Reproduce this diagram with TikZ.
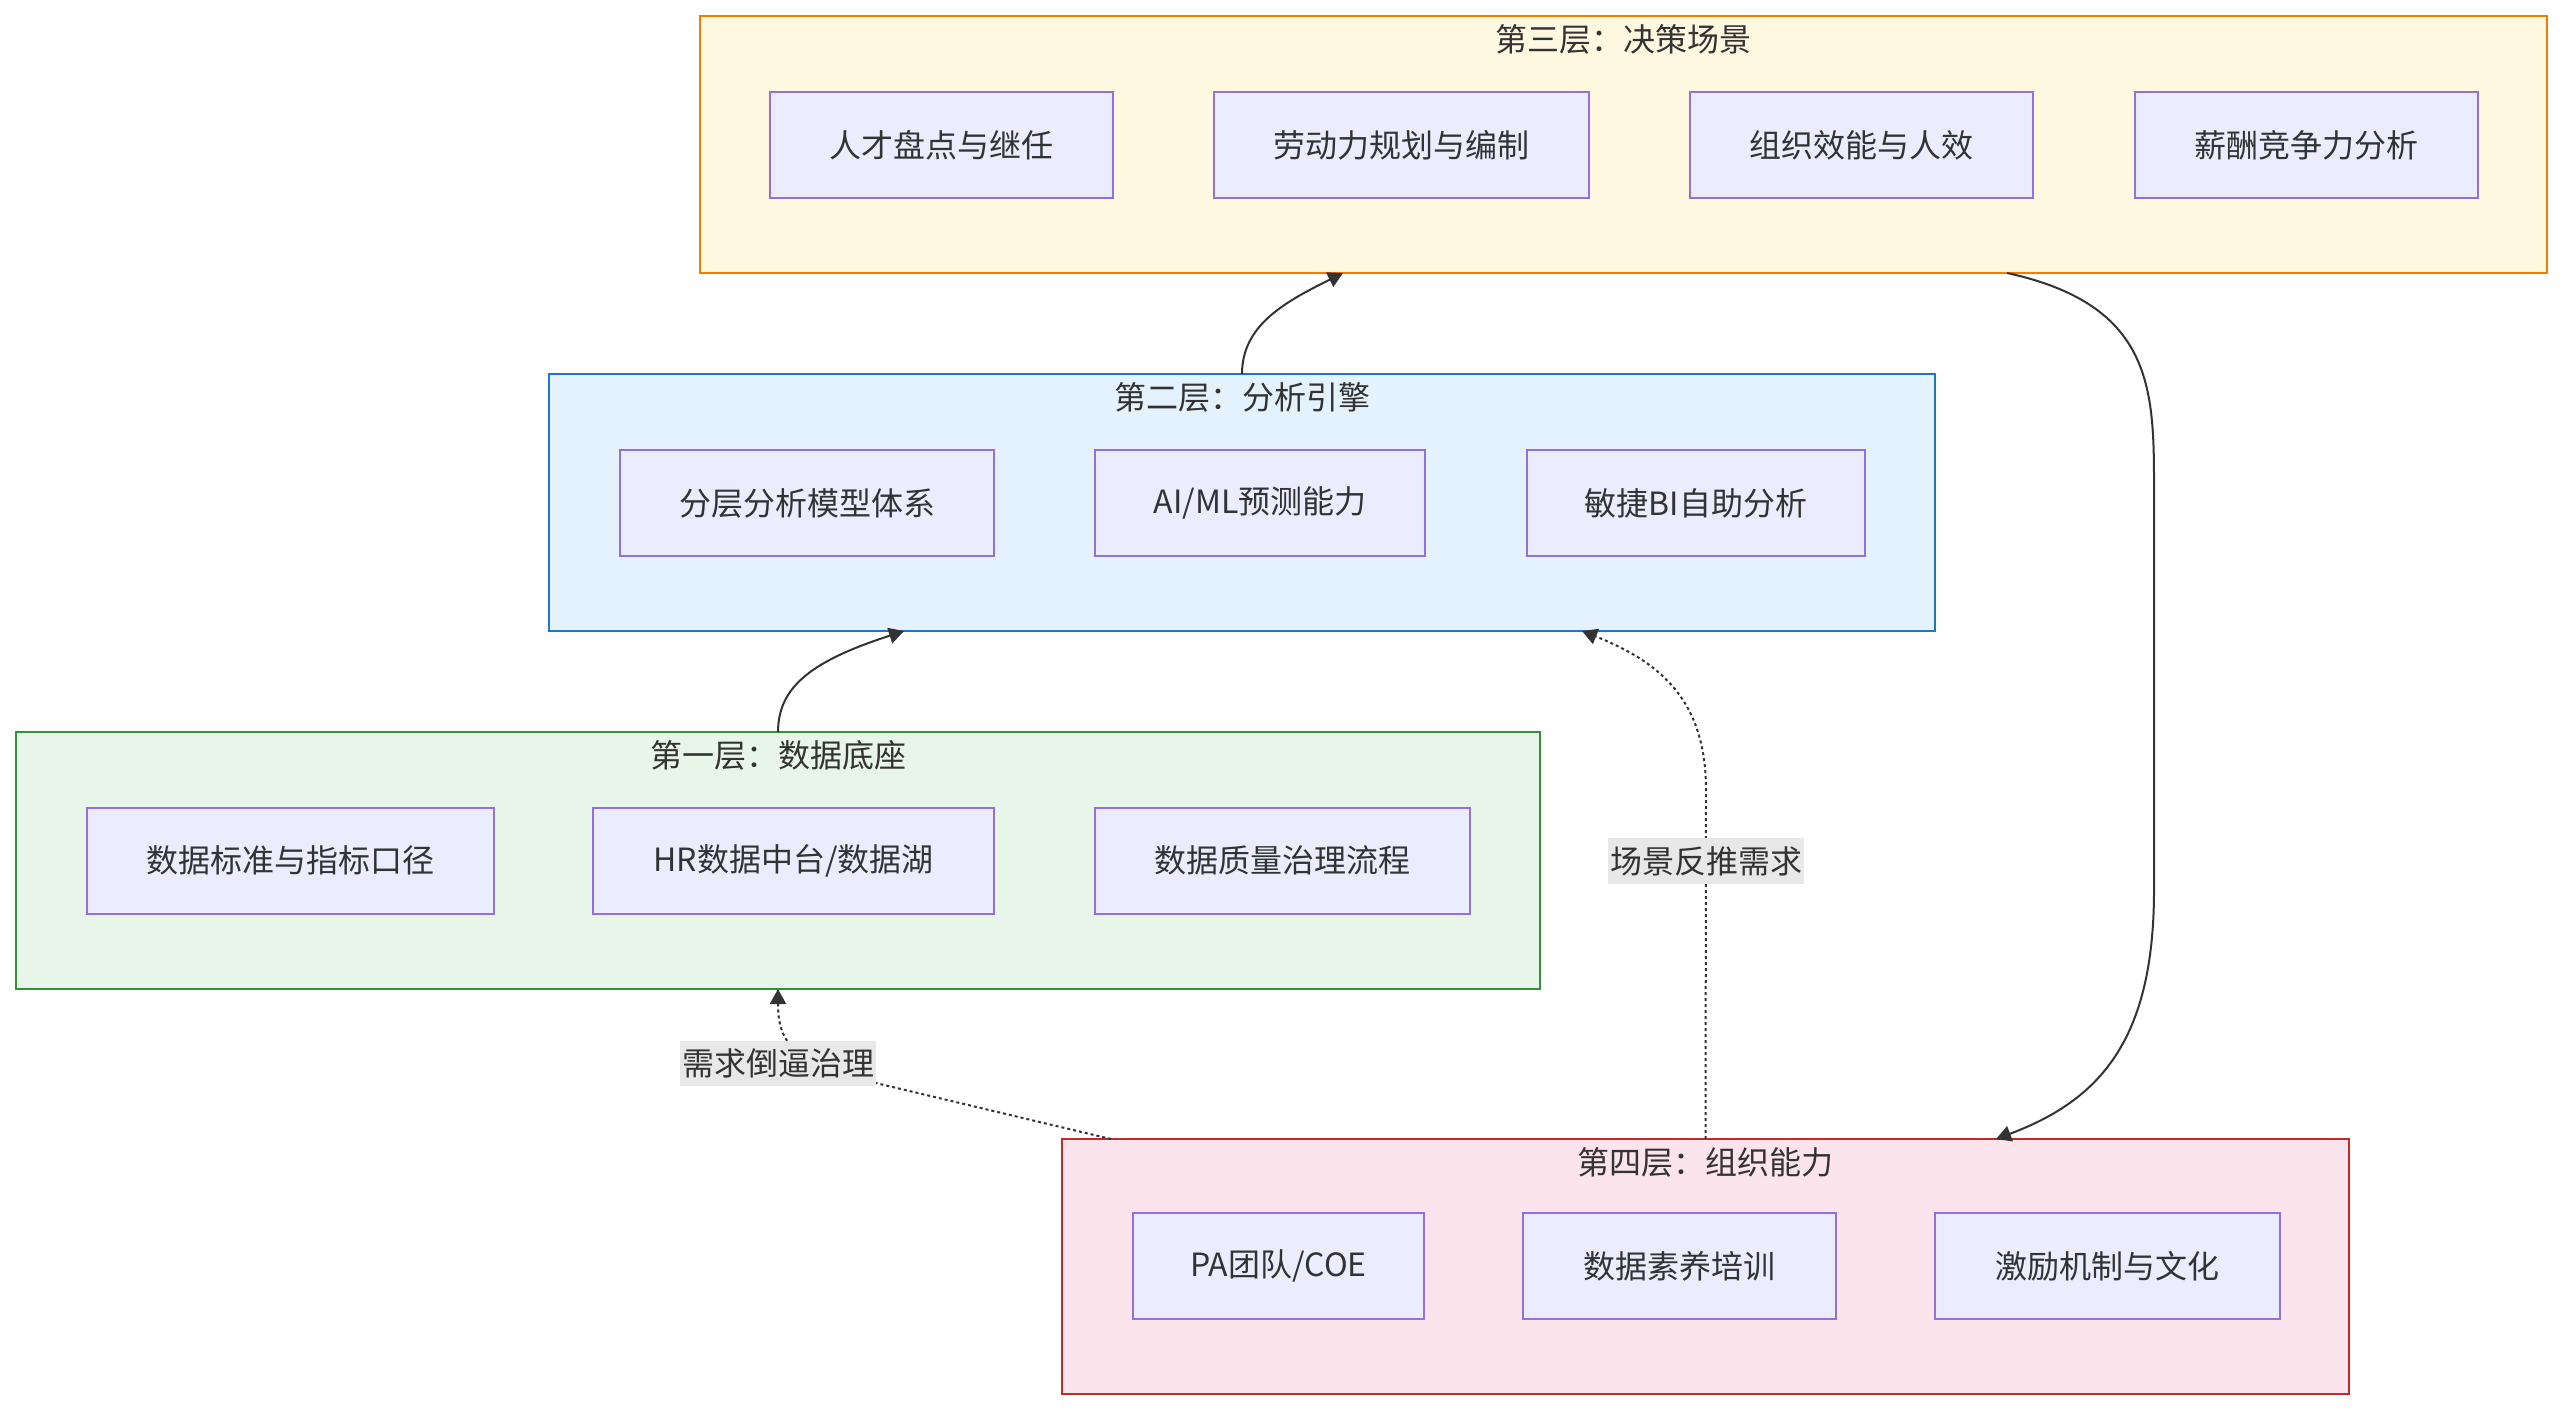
\documentclass[tikz,border=0pt]{standalone}
\usepackage{fontspec}
\setmainfont{Noto Sans CJK SC}
\usetikzlibrary{arrows.meta}
\definecolor{ink}{HTML}{333333}
\definecolor{itemfill}{HTML}{ECECFF}
\definecolor{itemline}{HTML}{9370DB}
\definecolor{lthreefill}{HTML}{FFF8E1}
\definecolor{lthreeline}{HTML}{F57C00}
\definecolor{ltwofill}{HTML}{E3F2FD}
\definecolor{ltwoline}{HTML}{1976D2}
\definecolor{lonefill}{HTML}{E8F5E9}
\definecolor{loneline}{HTML}{388E3C}
\definecolor{lfourfill}{HTML}{FCE4EC}
\definecolor{lfourline}{HTML}{C62828}
\definecolor{lblfill}{HTML}{E8E8E8}

\begin{document}
\begin{tikzpicture}[x=0.5pt,y=-0.5pt,
  layer/.style={rectangle, line width=1pt, inner sep=0pt, outer sep=0pt, minimum height=128.5pt},
  ttl/.style={text=ink, font=\fontsize{16pt}{19pt}\selectfont, inner sep=0pt},
  item/.style={rectangle, draw=itemline, fill=itemfill, line width=1pt, text=ink,
    font=\fontsize{16pt}{19pt}\selectfont, minimum height=53pt, inner sep=0pt, outer sep=0pt},
  lbl/.style={fill=lblfill, text=ink, font=\fontsize{16pt}{19pt}\selectfont, inner xsep=1pt, inner ysep=4pt},
  flow/.style={draw=ink, line width=1pt, -{Triangle[length=7.5pt,width=8pt]}},
  back/.style={flow, dash pattern=on 1.5pt off 1.5pt}]
\useasboundingbox (0,0) rectangle (2563,1412);

\node[layer, fill=lthreefill, draw=lthreeline, minimum width=923.5pt] (l3) at (1623.5,144.5) {};
\node[ttl] (l3t) at (1623.5,39) {第三层：决策场景};
\node[item, minimum width=171.5pt] (talent) at (941.5,145.5) {人才盘点与继任};
\node[item, minimum width=187.5pt] (labor) at (1401.5,145.5) {劳动力规划与编制};
\node[item, minimum width=171.5pt] (effect) at (1861.5,145.5) {组织效能与人效};
\node[item, minimum width=171.5pt] (pay) at (2306.5,145.5) {薪酬竞争力分析};

\node[layer, fill=ltwofill, draw=ltwoline, minimum width=693pt] (l2) at (1242,502.5) {};
\node[ttl] (l2t) at (1242,397) {第二层：分析引擎};
\node[item, minimum width=187pt] (model) at (807,503) {分层分析模型体系};
\node[item, minimum width=165pt] (aiml) at (1260,503) {AI/ML预测能力};
\node[item, minimum width=169pt] (bi) at (1696,503) {敏捷BI自助分析};

\node[layer, fill=lonefill, draw=loneline, minimum width=762pt] (l1) at (778,860.5) {};
\node[ttl] (l1t) at (778,755) {第一层：数据底座};
\node[item, minimum width=203.5pt] (std) at (290.5,860.5) {数据标准与指标口径};
\node[item, minimum width=200.5pt] (lake) at (793.5,860.5) {HR数据中台/数据湖};
\node[item, minimum width=187.5pt] (quality) at (1282.5,860.5) {数据质量治理流程};

\node[layer, fill=lfourfill, draw=lfourline, minimum width=643.5pt, minimum height=127.5pt] (l4) at (1705.5,1266.5) {};
\node[ttl] (l4t) at (1705.5,1162) {第四层：组织能力};
\node[item, minimum width=145.5pt] (pa) at (1278.5,1266) {PA团队/COE};
\node[item, minimum width=156.5pt] (literacy) at (1679.5,1266) {数据素养培训};
\node[item, minimum width=172.5pt] (reward) at (2107.5,1266) {激励机制与文化};

\coordinate (l2in) at (904,631);
\coordinate (l3in) at (1343,273);
\coordinate (l3out) at (2007,273);
\coordinate (l4in) at (1996,1139);
\coordinate (l2back) at (1582,631);
\coordinate (l4left) at (1111,1139);

\draw[flow] (l1.north) .. controls (778,685) and (815,660) .. (l2in);
\draw[flow] (l2.north) .. controls (1242,325) and (1285,302) .. (l3in);
\draw[flow] (l3out) .. controls (2154,305) and (2154,390) .. (2154,490) -- (2154,890)
  .. controls (2154,1040) and (2100,1100) .. (l4in);
\draw[back] (l4.north) -- (1706,790) .. controls (1706,700) and (1660,662) .. (l2back);
\draw[back] (l4left) -- (880,1084) .. controls (795,1064) and (778,1045) .. (l1.south);

\node[lbl] (why) at (1706,861) {场景反推需求};
\node[lbl] (force) at (778,1063.5) {需求倒逼治理};
\end{tikzpicture}
\end{document}
